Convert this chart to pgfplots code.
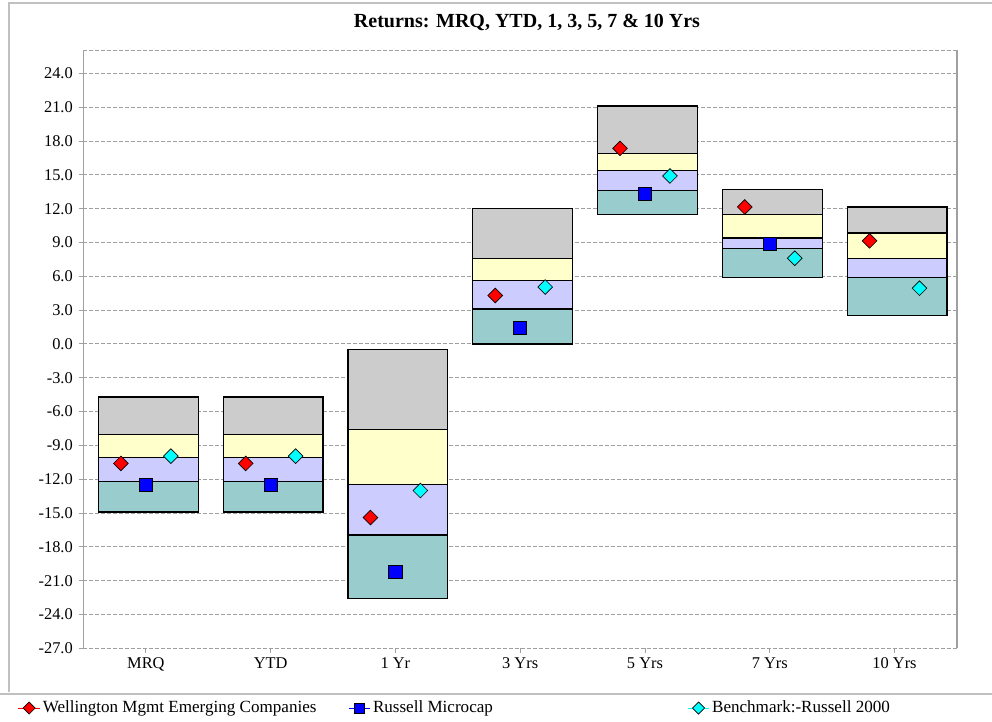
\documentclass[border=0pt]{standalone}
\usepackage{fontspec}
\setmainfont{Liberation Serif}
\usepackage{pgfplots}
\usepackage{pgfplotstable}
\pgfplotsset{compat=1.18}
\definecolor{bandgray}{HTML}{CCCCCC}
\definecolor{bandyellow}{HTML}{FFFFCC}
\definecolor{bandpurple}{HTML}{CCCCFF}
\definecolor{bandteal}{HTML}{99CCCC}
\definecolor{gridgray}{HTML}{A0A0A0}
\definecolor{framegray}{HTML}{C0C0C0}
\definecolor{mred}{HTML}{FF0000}
\definecolor{mblue}{HTML}{0000FF}
\definecolor{mcyan}{HTML}{00FFFF}

\pgfplotstableread{
x base teal purple yellow gray
0 -14.9 2.7 2.1 2.1 3.3
1 -14.9 2.7 2.1 2.1 3.3
2 -22.6 5.65 4.5 4.85 7.1
3 0 3.1 2.55 1.95 4.4
4 11.5 2.1 1.8 1.5 4.2
5 5.9 2.55 0.95 2.1 2.2
6 2.5 3.4 1.7 2.25 2.3
}\boxes

\pgfplotstableread{
x y
-0.2 -10.6
0.8 -10.6
1.8 -15.4
2.8 4.3
3.8 17.35
4.8 12.15
5.8 9.15
}\wellington

\pgfplotstableread{
x y
0 -12.5
1 -12.5
2 -20.2
3 1.4
4 13.35
5 8.85
}\microcap

\pgfplotstableread{
x y
0.2 -9.95
1.2 -9.95
2.2 -13.0
3.2 5.05
4.2 14.9
5.2 7.6
6.2 4.95
}\bench

\pgfplotsset{
  common/.style={
    at={(62.6pt,54.5pt)}, anchor=south west, scale only axis,
    width=655.1pt, height=448.7pt,
    xmin=-0.5, xmax=6.5, ymin=-27, ymax=26.07,
    enlargelimits=false,
  },
}

\begin{document}
\begin{tikzpicture}
\path[use as bounding box] (0,0) rectangle (744pt,540.75pt);
% outer frame
\draw[framegray, line width=1.2pt] (6.75pt,21.75pt) -- (6.75pt,538.5pt) -- (744pt,538.5pt);
\draw[framegray, line width=1.2pt] (0pt,20.25pt) -- (744pt,20.25pt);

\node[font=\fontsize{15}{18}\selectfont\bfseries] at (395.25pt,524.25pt) {Returns: MRQ, YTD, 1, 3, 5, 7 \& 10 Yrs};

\begin{axis}[common,
  ybar stacked, stack negative=on previous, bar width=0.8, bar shift=0.02,
  separate axis lines,
  y axis line style={gridgray, line width=1pt},
  x axis line style={gridgray, line width=0.7pt, dash pattern=on 2.5pt off 2pt},
  xtick={0,...,6},
  xticklabels={MRQ,YTD,1 Yr,3 Yrs,5 Yrs,7 Yrs,10 Yrs},
  ytick={-27,-24,...,24},
  xtick pos=bottom, ytick pos=left,
  tick align=outside, major tick length=3.5pt,
  tick style={gridgray, line width=0.7pt},
  ymajorgrids,
  major grid style={gridgray, line width=0.7pt, dash pattern=on 2.5pt off 2pt},
  ticklabel style={font=\fontsize{12.3}{14}\selectfont},
  yticklabel style={/pgf/number format/.cd, fixed, fixed zerofill, precision=1, assume math mode=true},
  yticklabel shift=1pt,
]
\addplot[draw=none, fill=none] table[x=x, y=base] {\boxes};
\addplot[draw=black, line width=0.9pt, fill=bandteal] table[x=x, y=teal] {\boxes};
\addplot[draw=black, line width=0.9pt, fill=bandpurple] table[x=x, y=purple] {\boxes};
\addplot[draw=black, line width=0.9pt, fill=bandyellow] table[x=x, y=yellow] {\boxes};
\addplot[draw=black, line width=0.9pt, fill=bandgray] table[x=x, y=gray] {\boxes};
\end{axis}

\begin{axis}[common, hide axis,
  legend columns=3,
  legend style={at={(-0.0750,-0.0998)}, anchor=west, draw=none, fill=none,
    font=\fontsize{12.8}{15}\selectfont, inner sep=0pt,
    /tikz/column 2/.style={column sep=22pt},
    /tikz/column 4/.style={column sep=144pt}},
  legend cell align=left,
]
\addplot[only marks, color=mred, mark=square*, mark size=3.9pt,
  mark options={rotate=45, fill=mred, draw=black, line width=0.5pt},
  legend image code/.code={\draw[sharp plot, mark repeat=2, mark phase=2, mark size=3.2pt] plot coordinates {(0pt,0pt) (8pt,0pt) (16pt,0pt)};}]
  table[x=x, y=y] {\wellington};
\addlegendentry{Wellington Mgmt Emerging Companies}
\addplot[only marks, color=mblue, mark=square*, mark size=4.9pt,
  mark options={fill=mblue, draw=black, line width=0.6pt},
  legend image code/.code={\draw[sharp plot, mark repeat=2, mark phase=2, mark size=3.7pt] plot coordinates {(0pt,0pt) (8pt,0pt) (16pt,0pt)};}]
  table[x=x, y=y] {\microcap};
\addlegendentry{Russell Microcap}
\addplot[only marks, color=mcyan, mark=square*, mark size=3.9pt,
  mark options={rotate=45, fill=mcyan, draw=black, line width=0.5pt},
  legend image code/.code={\draw[sharp plot, mark repeat=2, mark phase=2, mark size=3.2pt] plot coordinates {(0pt,0pt) (8pt,0pt) (16pt,0pt)};}]
  table[x=x, y=y] {\bench};
\addlegendentry{Benchmark:-Russell 2000}
\end{axis}
\end{tikzpicture}
\end{document}
